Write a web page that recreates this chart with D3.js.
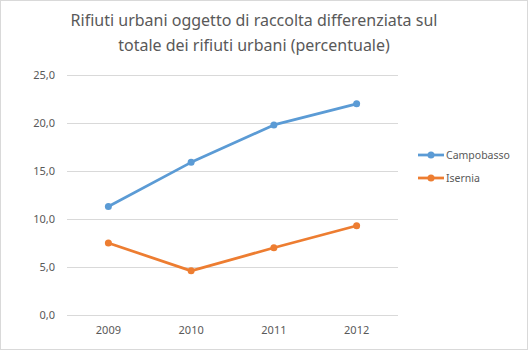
<!DOCTYPE html>
<html>
<head>
<meta charset="utf-8">
<script src="https://cdn.jsdelivr.net/npm/d3@7"></script>
<style>
  body { margin: 0; background: #fff; }
  text { font-family: "Noto Sans", "Open Sans", sans-serif; }
</style>
</head>
<body>
<div class="canva"></div>
<script>
// data
const years = ["2009", "2010", "2011", "2012"];
const campobasso = [11.3, 15.9, 19.8, 22.0];
const isernia = [7.5, 4.6, 7.0, 9.3];
const yTicks = [0, 5, 10, 15, 20, 25];
const seriesNames = ["Campobasso", "Isernia"];
const seriesColors = ["#5b9bd5", "#ed7d31"];

const width = 530, height = 351;
const margin = {top: 75, right: 132, bottom: 36, left: 67};

const svg = d3.select(".canva").append("svg")
    .attr("width", width)
    .attr("height", height);

// chart border
svg.append("rect")
    .attr("x", 0.5).attr("y", 0.5)
    .attr("width", width - 3).attr("height", height - 2)
    .attr("fill", "#fff")
    .attr("stroke", "#d9d9d9");

// title
const title = svg.append("text")
    .attr("text-anchor", "middle")
    .attr("fill", "#595959")
    .style("font-size", "16px");
title.append("tspan").attr("x", 254).attr("y", 26).text("Rifiuti urbani oggetto di raccolta differenziata sul");
title.append("tspan").attr("x", 254).attr("y", 51).text("totale dei rifiuti urbani (percentuale)");

const x = d3.scaleBand()
    .domain(years)
    .range([margin.left, width - margin.right]);

const y = d3.scaleLinear()
    .domain([0, 25])
    .range([height - margin.bottom, margin.top]);

// gridlines
svg.append("g")
    .selectAll("line")
    .data(yTicks)
    .join("line")
    .attr("x1", margin.left)
    .attr("x2", width - margin.right)
    .attr("y1", d => Math.round(y(d)) + 0.5)
    .attr("y2", d => Math.round(y(d)) + 0.5)
    .attr("stroke", "#d9d9d9");

// y axis labels
const yAxis = svg.append("g")
    .attr("transform", `translate(${margin.left},0)`)
    .call(d3.axisLeft(y).tickValues(yTicks).tickSize(0).tickPadding(12)
        .tickFormat(d => d3.format(".1f")(d).replace(".", ",")));
yAxis.select(".domain").remove();
yAxis.selectAll("text").attr("fill", "#595959").style("font-size", "11px")
    .style("font-family", "\"Noto Sans\", sans-serif");

// x axis labels
const xAxis = svg.append("g")
    .attr("transform", `translate(0,${height - margin.bottom})`)
    .call(d3.axisBottom(x).tickSize(0).tickPadding(11));
xAxis.select(".domain").remove();
xAxis.selectAll("text").attr("fill", "#595959").style("font-size", "11px")
    .style("font-family", "\"Noto Sans\", sans-serif");

const allSeries = [campobasso, isernia];

const line = d3.line()
    .x((d, i) => x(years[i]) + x.bandwidth() / 2)
    .y(d => y(d));

allSeries.forEach((vals, s) => {
    svg.append("path")
        .datum(vals)
        .attr("fill", "none")
        .attr("stroke", seriesColors[s])
        .attr("stroke-width", 2.75)
        .attr("stroke-linejoin", "round")
        .attr("d", line);

    svg.append("g")
        .selectAll("circle")
        .data(vals)
        .join("circle")
        .attr("cx", (d, i) => x(years[i]) + x.bandwidth() / 2)
        .attr("cy", d => y(d))
        .attr("r", 3.5)
        .attr("fill", seriesColors[s]);
});

// legend
const legend = svg.append("g")
    .attr("transform", "translate(418,155)");

seriesNames.forEach((name, i) => {
    const g = legend.append("g").attr("transform", `translate(0,${i * 23})`);
    g.append("line")
        .attr("x1", 0).attr("x2", 26)
        .attr("stroke", seriesColors[i])
        .attr("stroke-width", 2.75);
    g.append("circle")
        .attr("cx", 13).attr("r", 3.5)
        .attr("fill", seriesColors[i]);
    g.append("text")
        .attr("x", 28).attr("dy", "0.35em")
        .attr("fill", "#595959")
        .style("font-size", "10.5px")
        .text(name);
});
</script>
</body>
</html>
